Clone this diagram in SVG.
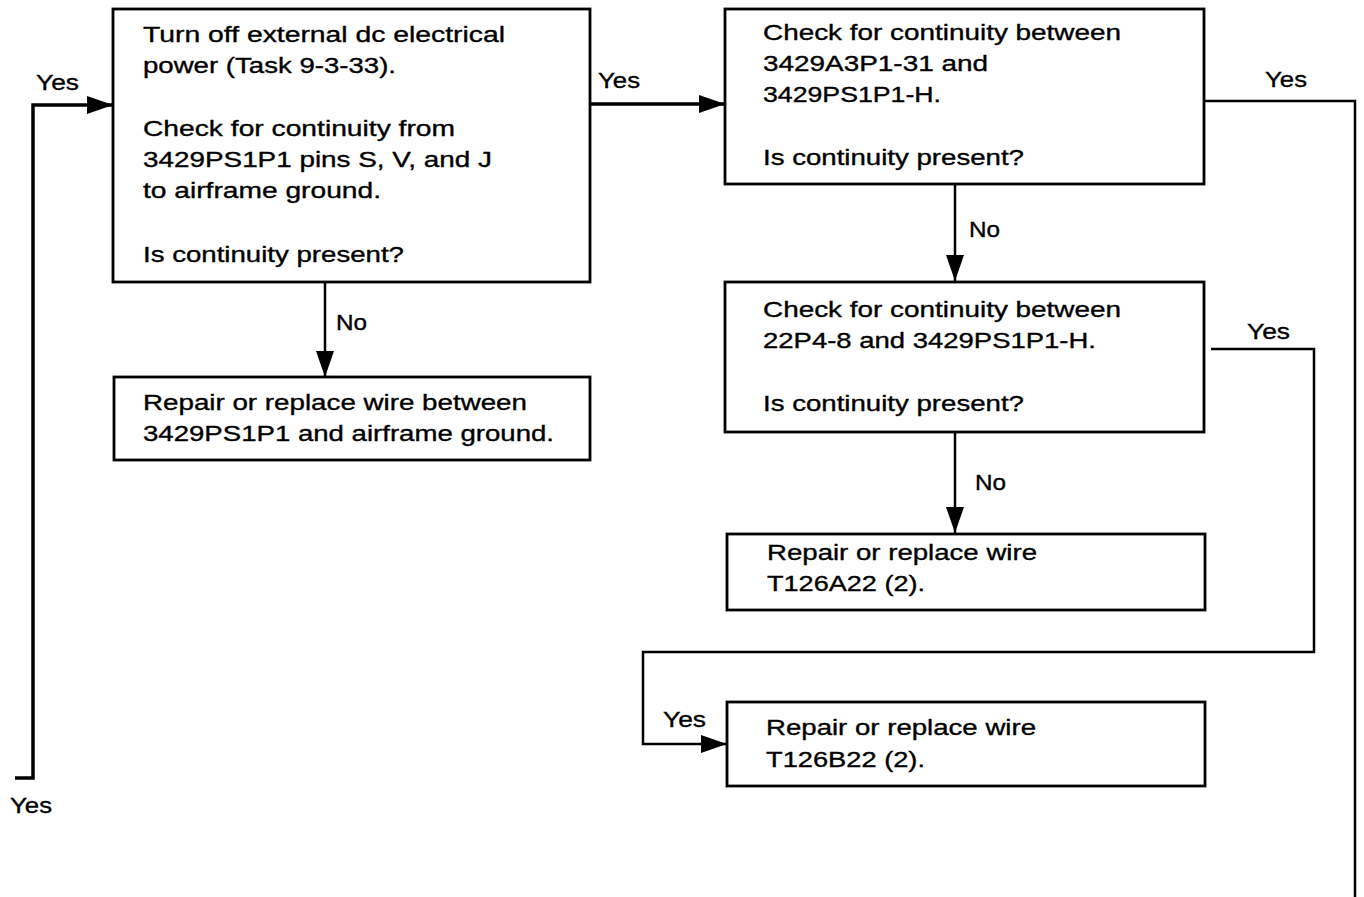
<svg xmlns="http://www.w3.org/2000/svg" width="1364" height="897" viewBox="0 0 1364 897">
<style>
.bg{fill:#fff}
.box{fill:#fff;stroke:#000;stroke-width:2.8}
.t{font-family:"Liberation Sans",Arial,sans-serif;font-size:22px;fill:#000;stroke:#000;stroke-width:0.35}
.c{fill:none;stroke:#000;stroke-width:2.5}
.ct{fill:none;stroke:#000;stroke-width:3.5}
</style>
<defs>
<marker id="ah" markerUnits="userSpaceOnUse" markerWidth="26" markerHeight="18" viewBox="0 0 26 18" refX="26" refY="9" orient="auto">
<path d="M0,0 L26,9 L0,18 Z" fill="#000"/>
</marker>
</defs>
<rect class="bg" x="0" y="0" width="1364" height="897"/>
<g id="connectors">
<polyline class="ct" points="15,778 33,778 33,105 113,105" marker-end="url(#ah)"/>
<line class="ct" x1="590" y1="104" x2="725" y2="104" marker-end="url(#ah)"/>
<polyline class="c" points="1204,101 1355,101 1355,897"/>
<line class="c" x1="955" y1="185" x2="955" y2="281" marker-end="url(#ah)"/>
<polyline class="c" points="1211,349 1314,349 1314,652 643,652 643,744 727,744" marker-end="url(#ah)"/>
<line class="c" x1="955" y1="432" x2="955" y2="533" marker-end="url(#ah)"/>
<line class="c" x1="325" y1="282" x2="325" y2="377" marker-end="url(#ah)"/>
<text class="t" x="36" y="90" textLength="43" lengthAdjust="spacingAndGlyphs">Yes</text>
<text class="t" x="10" y="813" textLength="42" lengthAdjust="spacingAndGlyphs">Yes</text>
<text class="t" x="598" y="88" textLength="42" lengthAdjust="spacingAndGlyphs">Yes</text>
<text class="t" x="1265" y="87" textLength="42" lengthAdjust="spacingAndGlyphs">Yes</text>
<text class="t" x="969" y="237" textLength="31" lengthAdjust="spacingAndGlyphs">No</text>
<text class="t" x="1247" y="339" textLength="43" lengthAdjust="spacingAndGlyphs">Yes</text>
<text class="t" x="975" y="490" textLength="31" lengthAdjust="spacingAndGlyphs">No</text>
<text class="t" x="663" y="727" textLength="43" lengthAdjust="spacingAndGlyphs">Yes</text>
<text class="t" x="336" y="330" textLength="31" lengthAdjust="spacingAndGlyphs">No</text>
</g>
<g id="box1">
<rect class="box" x="113" y="9" width="477" height="273"/>
<text class="t" x="143" y="42" textLength="362" lengthAdjust="spacingAndGlyphs">Turn off external dc electrical</text>
<text class="t" x="143" y="73" textLength="253" lengthAdjust="spacingAndGlyphs">power (Task 9-3-33).</text>
<text class="t" x="143" y="136" textLength="312" lengthAdjust="spacingAndGlyphs">Check for continuity from</text>
<text class="t" x="143" y="167" textLength="349" lengthAdjust="spacingAndGlyphs">3429PS1P1 pins S, V, and J</text>
<text class="t" x="143" y="198" textLength="238" lengthAdjust="spacingAndGlyphs">to airframe ground.</text>
<text class="t" x="143" y="262" textLength="261" lengthAdjust="spacingAndGlyphs">Is continuity present?</text>
</g>
<g id="box6">
<rect class="box" x="114" y="377" width="476" height="83"/>
<text class="t" x="143" y="410" textLength="384" lengthAdjust="spacingAndGlyphs">Repair or replace wire between</text>
<text class="t" x="143" y="441" textLength="411" lengthAdjust="spacingAndGlyphs">3429PS1P1 and airframe ground.</text>
</g>
<g id="box2">
<rect class="box" x="725" y="9" width="479" height="175"/>
<text class="t" x="763" y="40" textLength="358" lengthAdjust="spacingAndGlyphs">Check for continuity between</text>
<text class="t" x="763" y="71" textLength="225" lengthAdjust="spacingAndGlyphs">3429A3P1-31 and</text>
<text class="t" x="763" y="102" textLength="178" lengthAdjust="spacingAndGlyphs">3429PS1P1-H.</text>
<text class="t" x="763" y="165" textLength="261" lengthAdjust="spacingAndGlyphs">Is continuity present?</text>
</g>
<g id="box3">
<rect class="box" x="725" y="282" width="479" height="150"/>
<text class="t" x="763" y="317" textLength="358" lengthAdjust="spacingAndGlyphs">Check for continuity between</text>
<text class="t" x="763" y="348" textLength="333" lengthAdjust="spacingAndGlyphs">22P4-8 and 3429PS1P1-H.</text>
<text class="t" x="763" y="411" textLength="261" lengthAdjust="spacingAndGlyphs">Is continuity present?</text>
</g>
<g id="box4">
<rect class="box" x="727" y="534" width="478" height="76"/>
<text class="t" x="767" y="560" textLength="270" lengthAdjust="spacingAndGlyphs">Repair or replace wire</text>
<text class="t" x="767" y="591" textLength="158" lengthAdjust="spacingAndGlyphs">T126A22 (2).</text>
</g>
<g id="box5">
<rect class="box" x="727" y="702" width="478" height="84"/>
<text class="t" x="766" y="735" textLength="270" lengthAdjust="spacingAndGlyphs">Repair or replace wire</text>
<text class="t" x="766" y="767" textLength="159" lengthAdjust="spacingAndGlyphs">T126B22 (2).</text>
</g>
</svg>
